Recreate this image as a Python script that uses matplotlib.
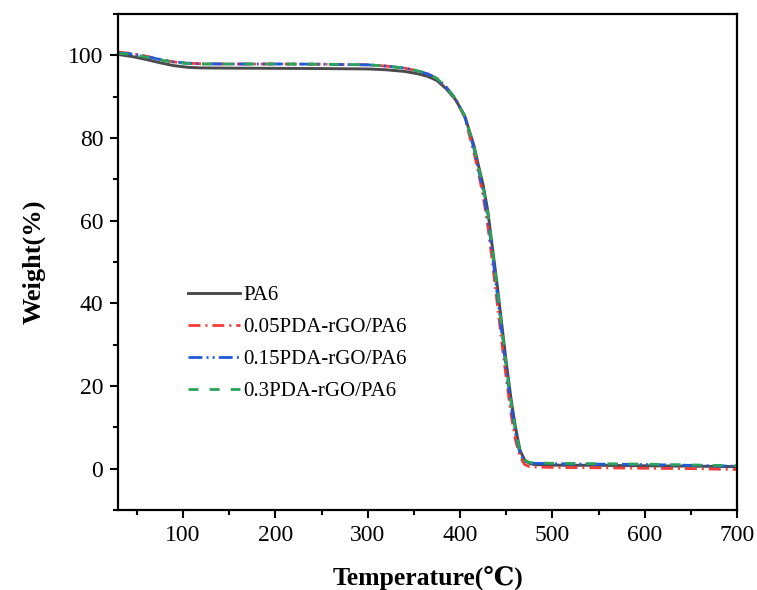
import matplotlib
matplotlib.use("Agg")
import matplotlib.pyplot as plt
from matplotlib.ticker import MultipleLocator

plt.rcParams["font.family"] = ["Liberation Serif", "DejaVu Serif"]

# temperature grid (°C) shared by all four curves
temp = [30, 45, 60, 75, 90, 105, 120, 150, 200, 250, 300, 320, 340, 355, 365,
        375, 385, 395, 405, 415, 420, 425, 430, 435, 440, 445, 450, 455, 460,
        465, 470, 475, 480, 500, 550, 600, 650, 700]

w_pa6 = [100.2, 99.7, 99.0, 98.2, 97.5, 97.1, 96.95, 96.9, 96.85, 96.8, 96.7,
         96.5, 96.1, 95.5, 94.9, 93.9, 91.9, 89.3, 85.4, 78.2, 73.3, 68.6,
         62.4, 53.6, 44.8, 35.3, 25.8, 17.2, 10.0, 4.4, 2.1, 1.3, 1.0, 0.85,
         0.8, 0.7, 0.6, 0.5]

w_005 = [100.8, 100.4, 99.8, 99.0, 98.4, 98.1, 97.95, 97.9, 97.9, 97.85, 97.7,
         97.4, 96.9, 96.2, 95.5, 94.4, 92.3, 89.5, 85.0, 76.5, 71.5, 66.0,
         58.8, 50.0, 40.5, 31.0, 22.0, 13.5, 7.0, 2.8, 1.0, 0.5, 0.4, 0.3,
         0.2, 0.1, 0.0, -0.2]

w_015 = [100.6, 100.3, 99.7, 99.0, 98.4, 98.1, 97.95, 97.9, 97.9, 97.85, 97.7,
         97.4, 96.9, 96.2, 95.5, 94.4, 92.3, 89.5, 85.2, 77.5, 72.3, 67.2,
         60.8, 52.0, 42.8, 33.3, 24.0, 15.5, 8.5, 3.5, 1.8, 1.4, 1.3, 1.2,
         1.1, 1.0, 0.8, 0.6]

w_03 = [100.5, 100.2, 99.6, 98.9, 98.3, 98.0, 97.9, 97.9, 97.9, 97.85, 97.7,
        97.4, 96.9, 96.2, 95.5, 94.4, 92.3, 89.5, 85.3, 78.0, 73.0, 68.2,
        61.8, 53.0, 44.0, 34.5, 25.0, 16.5, 9.2, 4.0, 2.0, 1.5, 1.4, 1.3,
        1.2, 1.1, 0.9, 0.7]

labels = ["PA6", "0.05PDA-rGO/PA6", "0.15PDA-rGO/PA6", "0.3PDA-rGO/PA6"]

fig = plt.figure(figsize=(7.57, 5.90), dpi=100)
ax = fig.add_axes([0.1565, 0.1356, 0.8171, 0.8407])

ax.plot(temp, w_pa6, color="#4a4a4a", lw=2.1, label=labels[0])
ax.plot(temp, w_005, color="#f23b3b", lw=2.0,
        linestyle=(0, (4.3, 1.8, 0.7, 1.8)), label=labels[1])
ax.plot(temp, w_015, color="#1f5bd8", lw=2.0,
        linestyle=(0, (5.0, 1.5, 0.7, 1.5, 0.7, 1.5)), label=labels[2])
ax.plot(temp, w_03, color="#2ca25a", lw=2.0,
        linestyle=(0, (3.6, 4.0)), label=labels[3])

ax.set_xlim(30, 700)
ax.set_ylim(-10, 110)
ax.xaxis.set_minor_locator(MultipleLocator(50))
ax.yaxis.set_major_locator(MultipleLocator(20))
ax.yaxis.set_minor_locator(MultipleLocator(10))
ax.set_xticks([100, 200, 300, 400, 500, 600, 700])

for s in ax.spines.values():
    s.set_linewidth(1.6)
ax.tick_params(which="both", direction="out", top=False, right=False,
               width=1.5, labelsize=17)
ax.tick_params(which="major", length=6, pad=5)
ax.tick_params(which="minor", length=3.5)

ax.set_xlabel("Temperature(℃)", fontsize=18.5, fontweight="bold", labelpad=14)
ax.set_ylabel("Weight(%)", fontsize=19, fontweight="bold", labelpad=16)

ax.legend(loc="upper left", bbox_to_anchor=(0.112, 0.452), frameon=False,
          fontsize=15, handlelength=2.5, handletextpad=0.15,
          labelspacing=0.59, borderpad=0, borderaxespad=0)

fig.savefig("out.png", dpi=100)
